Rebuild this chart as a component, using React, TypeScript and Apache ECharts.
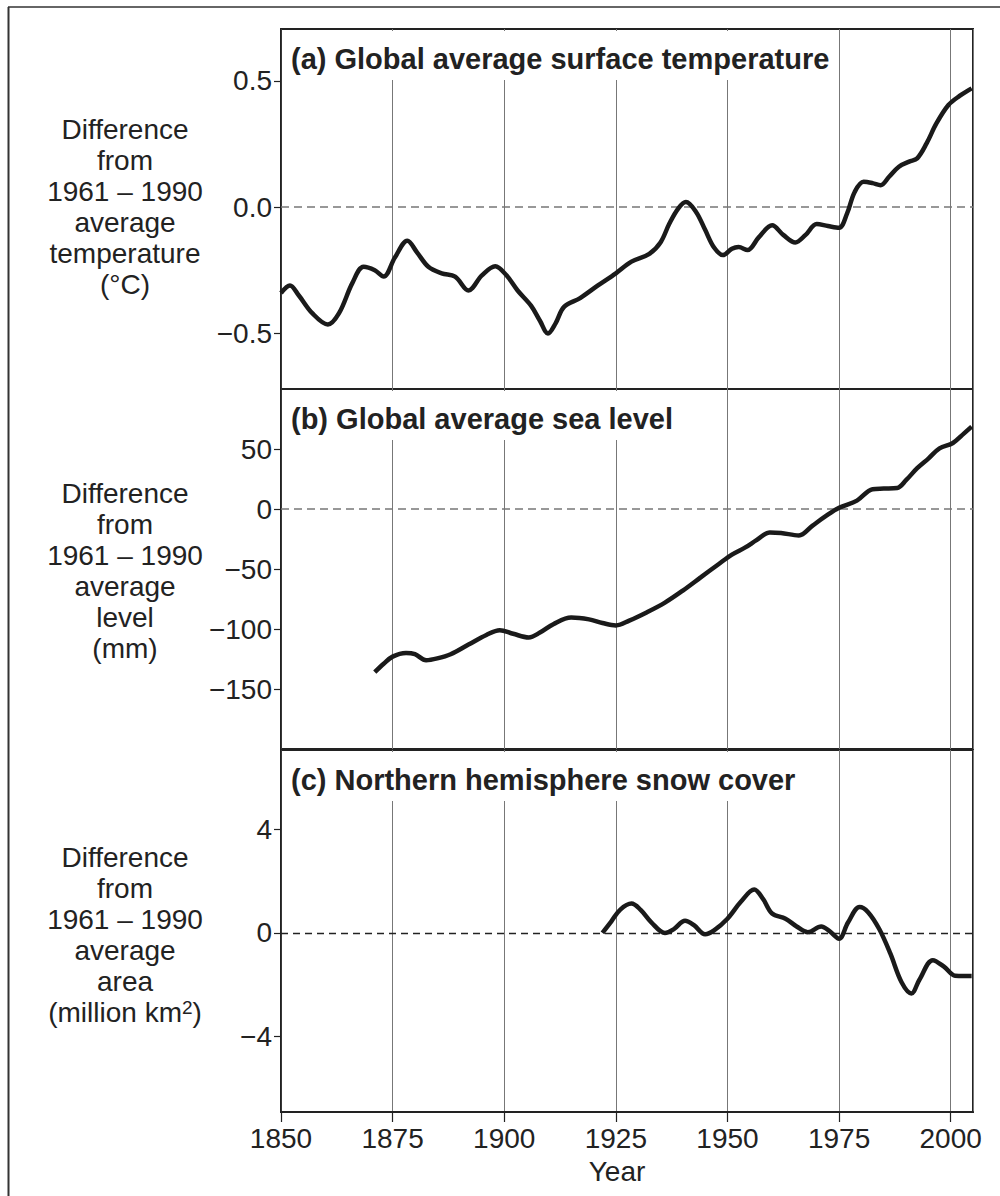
import React, { useEffect, useRef } from "react";
import * as echarts from "echarts";

const FONT = "'Liberation Sans', Arial, Helvetica, sans-serif";

const tempYears = [1850, 1852, 1854, 1857, 1860.5, 1863, 1866, 1868.5, 1871, 1873, 1875.5, 1878.3, 1880.5, 1883, 1886, 1889, 1892, 1895, 1898, 1900.5, 1903, 1906, 1908, 1909.8, 1911.5, 1913.4, 1917, 1921, 1925, 1928.5, 1932.5, 1935, 1937, 1939, 1940.7, 1943, 1945, 1947, 1949, 1951, 1952.5, 1954.5, 1957, 1960, 1962.5, 1965.2, 1967.5, 1970, 1972.5, 1975, 1976.8, 1978.5, 1980.5, 1982.5, 1984.3, 1986.2, 1988.4, 1990.7, 1992.5, 1994.6, 1996.8, 1999.5, 2002, 2004.7];
const tempValues = [-0.34, -0.31, -0.35, -0.42, -0.465, -0.42, -0.3, -0.236, -0.25, -0.275, -0.2, -0.133, -0.18, -0.236, -0.262, -0.275, -0.33, -0.27, -0.234, -0.27, -0.33, -0.39, -0.45, -0.5, -0.46, -0.395, -0.36, -0.31, -0.262, -0.216, -0.185, -0.14, -0.065, -0.005, 0.02, -0.02, -0.09, -0.16, -0.19, -0.165, -0.158, -0.17, -0.12, -0.072, -0.11, -0.14, -0.11, -0.067, -0.075, -0.082, -0.025, 0.06, 0.1, 0.095, 0.087, 0.12, 0.16, 0.18, 0.193, 0.252, 0.331, 0.404, 0.44, 0.47];

const seaYears = [1871, 1873, 1875, 1878, 1880, 1882.5, 1885, 1888, 1892, 1896, 1899, 1902, 1905.5, 1908, 1911, 1915, 1919, 1922, 1925, 1928, 1932, 1936, 1940, 1944, 1948, 1951, 1954, 1956.5, 1959.5, 1962, 1966, 1969, 1972, 1975, 1979, 1982.5, 1985, 1988, 1990, 1992.5, 1995, 1997.5, 2000.5, 2003, 2004.7];
const seaValues = [-136, -129, -123, -120, -121, -126, -124.5, -121, -113, -105, -101, -104, -107, -103, -96, -90.5, -92, -95, -97, -93, -86, -78, -68, -57, -46, -38, -32, -26, -19.5, -20, -22, -14, -6, 1, 7, 16.5, 17, 17.5, 24, 34, 42, 50.5, 55, 63, 68.6];

const snowYears = [1922, 1924, 1926, 1928.5, 1930.5, 1933, 1936, 1938, 1940.5, 1942.5, 1945, 1947, 1950, 1953, 1956, 1958, 1960, 1963, 1965.5, 1968, 1971, 1973, 1975, 1977, 1979.6, 1981.5, 1984, 1986.5, 1989, 1991.2, 1993, 1996, 1998.5, 2001, 2003, 2004.7];
const snowValues = [0, 0.45, 0.9, 1.13, 0.9, 0.4, 0, 0.15, 0.47, 0.3, -0.05, 0.1, 0.55, 1.2, 1.67, 1.3, 0.75, 0.55, 0.25, 0.03, 0.25, 0.05, -0.22, 0.4, 1.0, 0.8, 0.15, -0.8, -1.9, -2.33, -1.8, -1.05, -1.3, -1.65, -1.66, -1.66];

const tempTicks = [-0.5, 0, 0.5];
const seaTicks = [-150, -100, -50, 0, 50];
const snowTicks = [-4, 0, 4];

const panelTitles = [
  "(a) Global average surface temperature",
  "(b) Global average sea level",
  "(c) Northern hemisphere snow cover",
];
const axisNames = [
  "Difference\nfrom\n1961 – 1990\naverage\ntemperature\n(°C)",
  "Difference\nfrom\n1961 – 1990\naverage\nlevel\n(mm)",
  "Difference\nfrom\n1961 – 1990\naverage\narea\n(million km{s|2})",
];
const xTitle = "Year";

const zip = (xs: number[], ys: number[]) => xs.map((x, i) => [x, ys[i]]);
const minus = (s: string) => s.replace("-", "\u2212");

export default function App() {
  const ref = useRef<HTMLDivElement>(null);
  useEffect(() => {
    if (!ref.current) return;
    const chart = echarts.init(ref.current, undefined, { renderer: "svg" });

    const grids = [
      { left: 281, width: 692, top: 29, height: 360 },
      { left: 281, width: 692, top: 389, height: 360 },
      { left: 281, width: 692, top: 750, height: 362 },
    ];
    const ranges = [
      { min: -0.72, max: 0.705, ticks: tempTicks, fmt: (v: number) => minus(v.toFixed(1)) },
      { min: -200, max: 100, ticks: seaTicks, fmt: (v: number) => minus(String(v)) },
      { min: -6.9, max: 7.05, ticks: snowTicks, fmt: (v: number) => minus(String(v)) },
    ];
    const datas = [zip(tempYears, tempValues), zip(seaYears, seaValues), zip(snowYears, snowValues)];
    const nameCenters = [207, 571, 935];

    const option: any = {
      animation: false,
      backgroundColor: "#fff",
      grid: grids.map((g) => ({ ...g, show: true, borderColor: "#222", borderWidth: 2, backgroundColor: "transparent" })),
      xAxis: grids.map((_, i) => ({
        type: "value",
        gridIndex: i,
        min: 1850,
        max: 2005,
        interval: 25,
        position: "bottom",
        axisLine: { show: i === 2, onZero: false, lineStyle: { color: "#222", width: 2 } },
        axisTick: { show: i === 2, length: 10, lineStyle: { color: "#222", width: 1.2 } },
        axisLabel: {
          show: i === 2,
          fontSize: 28,
          fontFamily: FONT,
          color: "#222",
          margin: 12,
          formatter: (v: number) => String(v),
        },
        splitLine: { show: true, lineStyle: { color: "#777", width: 1 } },
      })),
      yAxis: ranges.map((r, i) => ({
        type: "value",
        gridIndex: i,
        min: r.min,
        max: r.max,
        axisLine: { show: true, onZero: false, lineStyle: { color: "#222", width: 1.5 } },
        axisTick: { show: true, length: 7, customValues: r.ticks, lineStyle: { color: "#222", width: 1.2 } },
        axisLabel: {
          show: true,
          customValues: r.ticks,
          fontSize: 28,
          fontFamily: FONT,
          color: "#222",
          margin: 9,
          formatter: r.fmt,
        },
        splitLine: { show: false },
      })),
      series: datas.map((d, i) => ({
        type: "line",
        xAxisIndex: i,
        yAxisIndex: i,
        data: d,
        smooth: 0.35,
        showSymbol: false,
        symbol: "none",
        lineStyle: { color: "#1a1a1a", width: 4.5 },
        z: 5,
        markLine: {
          silent: true,
          symbol: "none",
          label: { show: false },
          lineStyle: i === 2
            ? { color: "#222", width: 1.3, type: [7, 5] }
            : { color: "#777", width: 1.5, type: [8, 5] },
          data: [{ yAxis: 0 }],
        },
      })),
      graphic: [
        { type: "line", shape: { x1: 8, y1: 7, x2: 1000, y2: 7 }, style: { stroke: "#666", lineWidth: 2 }, z: 1 },
        { type: "line", shape: { x1: 8.5, y1: 7, x2: 8.5, y2: 1196 }, style: { stroke: "#333", lineWidth: 2 }, z: 1 },
        ...panelTitles.map((t, i) => ({
          type: "text",
          x: 283,
          y: grids[i].top + 2,
          z: 100,
          style: {
            text: t,
            fontSize: 29,
            fontWeight: "bold",
            fontFamily: FONT,
            fill: "#222",
            lineHeight: 29,
            align: "left",
            verticalAlign: "top",
            backgroundColor: "#fff",
            padding: [13, 4, 7, 8],
          },
        })),
        ...axisNames.map((t, i) => ({
          type: "text",
          x: 125,
          y: nameCenters[i],
          z: 100,
          style: {
            text: t,
            fontSize: 28,
            fontFamily: FONT,
            fill: "#222",
            lineHeight: 31,
            align: "center",
            verticalAlign: "middle",
            rich: {
              s: { fontSize: 19, fontFamily: FONT, fill: "#222", lineHeight: 31, verticalAlign: "top", padding: [1, 0, 0, 0] },
            },
          },
        })),
        {
          type: "text",
          x: 617,
          y: 1171,
          z: 100,
          style: { text: xTitle, fontSize: 28, fontFamily: FONT, fill: "#222", align: "center", verticalAlign: "middle" },
        },
      ],
    };
    chart.setOption(option);
    return () => chart.dispose();
  }, []);
  return (
    <div
      ref={ref}
      style={{ position: "absolute", left: 0, top: 0, width: 1000, height: 1196 }}
    />
  );
}
